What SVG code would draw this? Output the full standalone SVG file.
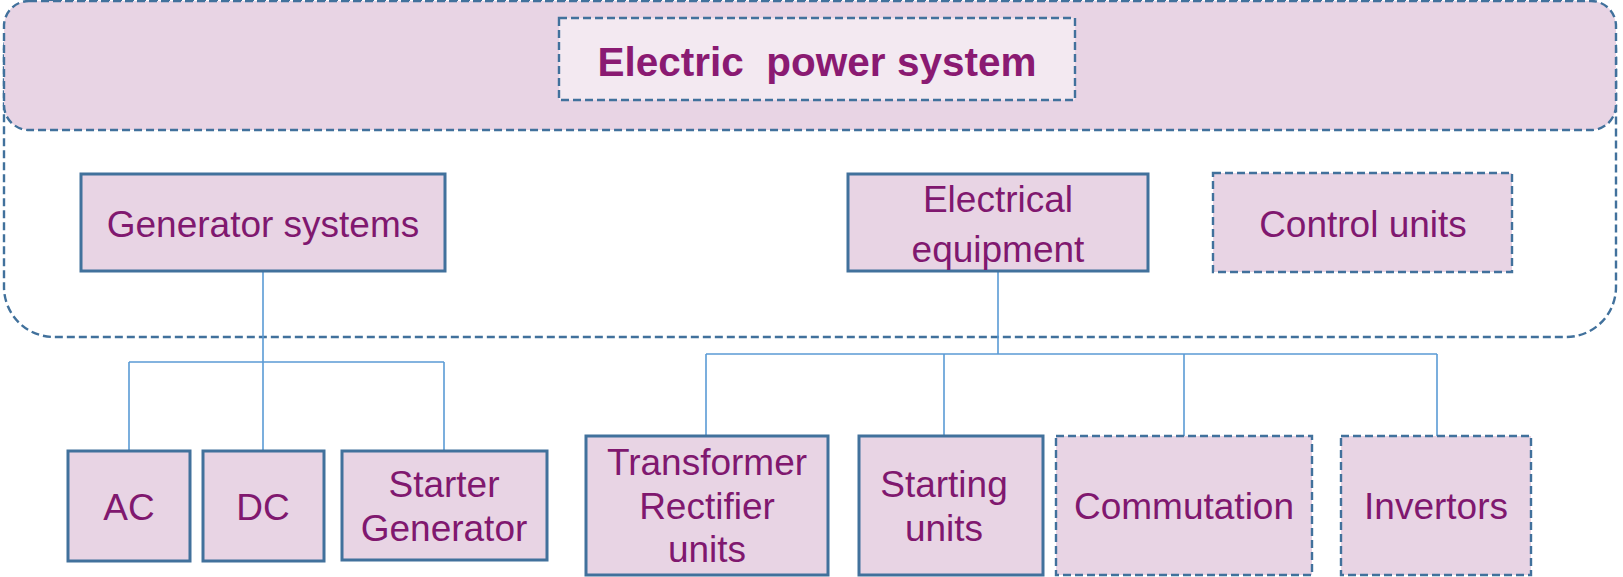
<svg xmlns="http://www.w3.org/2000/svg" width="1623" height="577" viewBox="0 0 1623 577">
<style>
.box{fill:#E8D4E4;stroke:#41719C;stroke-width:3}
.dash{fill:#E8D4E4;stroke:#41719C;stroke-width:2.4;stroke-dasharray:8 4}
.t{font-family:"Liberation Sans",Arial,sans-serif;font-size:37px;fill:#80186F;text-anchor:middle}
.title{font-family:"Liberation Sans",Arial,sans-serif;font-size:40.5px;font-weight:bold;fill:#8A1A72;text-anchor:middle}
.con{fill:none;stroke:#5B9BD5;stroke-width:1.6}
</style>
<rect width="1623" height="577" fill="#ffffff"/>
<g id="container">
<rect x="4" y="1" width="1612" height="336" rx="50" ry="50" fill="#ffffff" stroke="#41719C" stroke-width="2.4" stroke-dasharray="8 4"/>
<rect x="4" y="1" width="1612" height="129" rx="25" ry="25" fill="#E8D4E4" stroke="#41719C" stroke-width="2.4" stroke-dasharray="8 4"/>
</g>
<g id="title">
<rect x="559" y="18" width="516" height="82" fill="#F3E9F1" stroke="#41719C" stroke-width="2.4" stroke-dasharray="8 4"/>
<text class="title" x="817" y="76" xml:space="preserve">Electric  power system</text>
</g>
<g id="connectors">
<path class="con" d="M263 271V362M129 362H444M129 362V451M263 362V451M444 362V451"/>
<path class="con" d="M998 271V354M706 354H1437M706 354V436M944 354V436M1184 354V436M1437 354V436"/>
</g>
<g id="generator-systems">
<rect class="box" x="81" y="174" width="364" height="97"/>
<text class="t" x="263" y="237">Generator systems</text>
</g>
<g id="electrical-equipment">
<rect class="box" x="848" y="174" width="300" height="97"/>
<text class="t" x="998" y="212">Electrical</text>
<text class="t" x="998" y="262">equipment</text>
</g>
<g id="control-units">
<rect class="dash" x="1213" y="173" width="299" height="99"/>
<text class="t" x="1363" y="237">Control units</text>
</g>
<g id="ac">
<rect class="box" x="68" y="451" width="122" height="110"/>
<text class="t" x="129" y="520">AC</text>
</g>
<g id="dc">
<rect class="box" x="203" y="451" width="121" height="110"/>
<text class="t" x="263" y="520">DC</text>
</g>
<g id="starter-generator">
<rect class="box" x="342" y="451" width="205" height="109"/>
<text class="t" x="444" y="497">Starter</text>
<text class="t" x="444" y="541">Generator</text>
</g>
<g id="transformer-rectifier-units">
<rect class="box" x="586" y="436" width="242" height="139"/>
<text class="t" x="707" y="475">Transformer</text>
<text class="t" x="707" y="519">Rectifier</text>
<text class="t" x="707" y="562">units</text>
</g>
<g id="starting-units">
<rect class="box" x="859" y="436" width="184" height="139"/>
<text class="t" x="944" y="497">Starting</text>
<text class="t" x="944" y="541">units</text>
</g>
<g id="commutation">
<rect class="dash" x="1056" y="436" width="256" height="139"/>
<text class="t" x="1184" y="519">Commutation</text>
</g>
<g id="invertors">
<rect class="dash" x="1341" y="436" width="190" height="139"/>
<text class="t" x="1436" y="519">Invertors</text>
</g>
</svg>
